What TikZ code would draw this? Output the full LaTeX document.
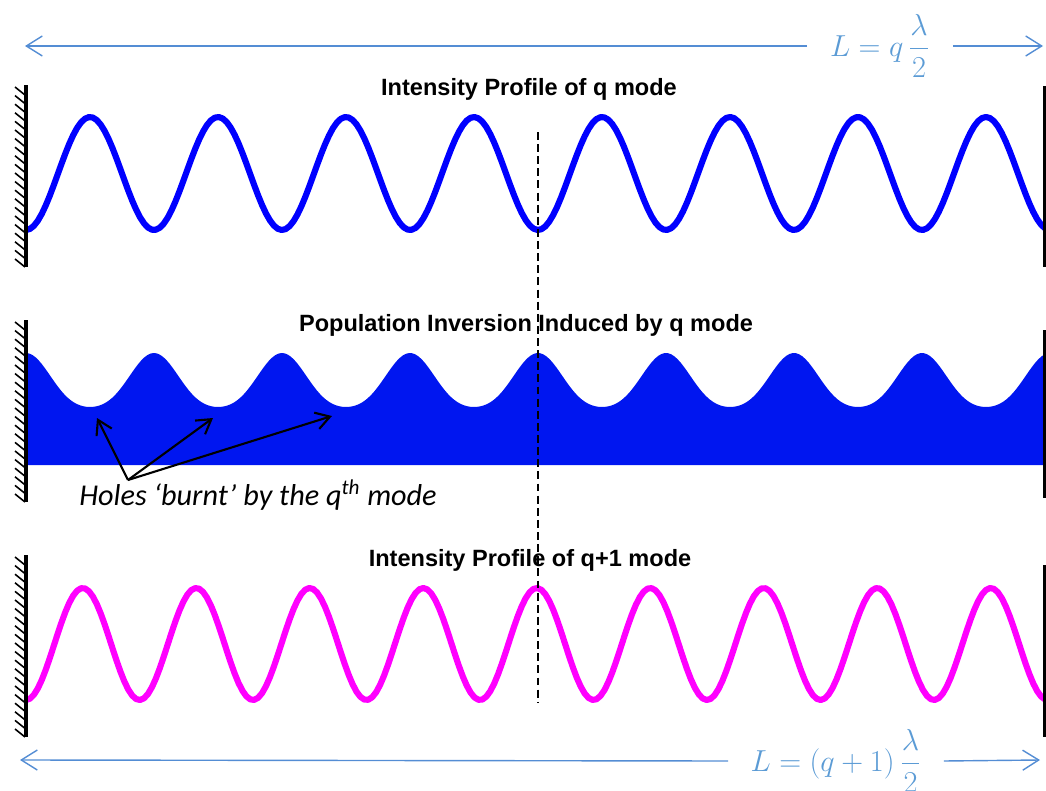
\documentclass[tikz,border=0pt]{standalone}
\usepackage{fontspec}
\usepackage{amsmath}
\usetikzlibrary{arrows.meta}
\newfontfamily\titlefont{Liberation Sans}
\newfontfamily\notefont{Carlito}
\definecolor{modeQColor}{RGB}{0,0,255}
\definecolor{modeQoneColor}{RGB}{255,0,255}
\definecolor{inversionColor}{RGB}{0,22,240}
\definecolor{lengthLineColor}{RGB}{84,141,212}
\definecolor{lengthTextColor}{RGB}{91,155,213}

\begin{document}
\begin{tikzpicture}[x=0.02cm,y=-0.02cm]
            \tikzset{title/.style={font=\titlefont\bfseries\fontsize{13.4}{16}\selectfont, inner sep=0pt},
                     wave/.style={line width=3.5pt, line join=round},
                     mirror/.style={line width=2.5pt},
                     hatch/.style={line width=0.9pt},
                     lengtharrow/.style={draw=lengthLineColor, line width=0.8pt, -{Straight Barb[length=0.32cm,width=0.4cm]}},
                     lengthlabel/.style={text=lengthTextColor, font=\fontsize{18}{22}\selectfont, inner sep=0pt},
                     holearrow/.style={line width=1.2pt, -{Straight Barb[length=0.28cm,width=0.34cm]}},
                     declare function={hc(\t)=0.5+0.5*cos(2.8125*(\t-26));}}
            \useasboundingbox (0,0) rectangle (1046,791);

            % cavity length for q
            \coordinate (lenQleft) at (25,46);
            \coordinate (lenQright) at (1043,46);
            \node[lengthlabel, minimum width=2.9cm] (lenQ) at (880,46) {$L=q\,\dfrac{\lambda}{2}$};
            \draw[lengtharrow] (lenQ.west) -- (lenQleft);
            \draw[lengtharrow] (lenQ.east) -- (lenQright);

            % intensity of q mode
            \node[title] (titleQ) at (529,89) {Intensity Profile of q mode};
            \draw[wave, modeQColor] plot[domain=26:1045, samples=260] (\x, {173.5+56.5*cos(2.8125*(\x-26))});

            % population inversion
            \node[title] (titleInv) at (526,325) {Population Inversion Induced by q mode};
            \fill[inversionColor] (26,465) -- plot[domain=26:1045, samples=320] (\x, {407-27*(hc(\x)+hc(\x)*hc(\x))}) -- (1045,465) -- cycle;

            % intensity of q+1 mode
            \node[title] (titleQone) at (530,560) {Intensity Profile of q+1 mode};
            \draw[wave, modeQoneColor] plot[domain=26:1045, samples=260] (\x, {644+56*cos(3.1718*(\x-26))});

            % mirrors
            \foreach \top/\bot in {85/267, 320/502, 555/737} {
                \draw[mirror] (26,\top) -- (26,\bot);
                \foreach \k [evaluate=\k as \y using \top+2+8.6*\k] in {0,...,20}
                    \draw[hatch] (15,\y) -- (25,\y+8);
            }
            \foreach \top/\bot in {86/267, 330/498, 565/737} {
                \draw[mirror] (1045,\top) -- (1045,\bot);
            }

            % centre line
            \coordinate (centreTop) at (538,132);
            \coordinate (centreBot) at (538,703);
            \draw[line width=0.75pt, dash pattern=on 4.5pt off 2.4pt] (centreTop) -- (centreBot);

            % burnt holes
            \node[font=\notefont\itshape\fontsize{17.2}{20}\selectfont] (holes) at (258,495) {Holes ‘burnt’ by the q\textsuperscript{th} mode};
            \coordinate (holeFork) at (128,480);
            \coordinate (holeA) at (97,418);
            \coordinate (holeB) at (213,418);
            \coordinate (holeC) at (332,416);
            \draw[holearrow] (holeFork) -- (holeA);
            \draw[holearrow] (holeFork) -- (holeB);
            \draw[holearrow] (holeFork) -- (holeC);

            % cavity length for q+1
            \coordinate (lenQoneLeft) at (20,760);
            \coordinate (lenQoneRight) at (1040,760);
            \node[lengthlabel, minimum width=4.3cm] (lenQone) at (836,761) {$L=(q+1)\,\dfrac{\lambda}{2}$};
            \draw[lengtharrow] (lenQone.west) -- (lenQoneLeft);
            \draw[lengtharrow] (lenQone.east) -- (lenQoneRight);
\end{tikzpicture}
\end{document}
